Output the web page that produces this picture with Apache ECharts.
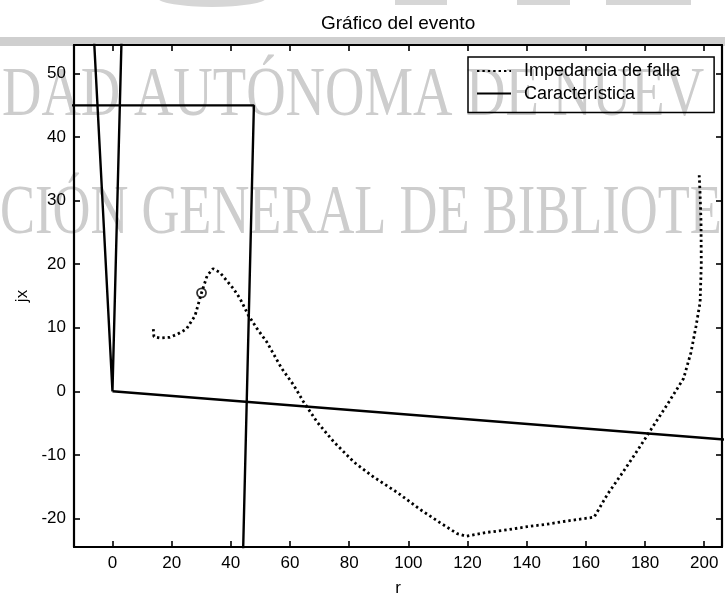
<!DOCTYPE html>
<html>
<head>
<meta charset="utf-8">
<script src="https://cdn.jsdelivr.net/npm/echarts@6/dist/echarts.min.js"></script>
<style>
  html, body { margin: 0; padding: 0; background: #fff; }
  #chart { width: 725px; height: 602px; }
</style>
</head>
<body>
<div id="chart"></div>
<script>
// Trayectoria de la impedancia de falla: resistencia r y reactancia jx (ohm)
const fallaR = [13.8, 14.0, 16.0, 19.4, 22.0, 25.0, 27.9, 30.1, 32.0, 34.0,
                36.3, 40.8, 43.1, 45.9, 48.8, 52.1, 57.2, 61.2, 64.5, 69.1,
                74.7, 81.5, 88.3, 96.2, 104.0, 110.8, 116.5, 119.5, 126.6, 133.4,
                140.2, 147.0, 153.7, 162.8, 167.3, 171.8, 176.3, 181.9, 187.6, 193.0,
                195.5, 197.2, 198.6, 199.0, 198.9, 198.6, 198.3];
const fallaX = [9.8, 8.6, 8.4, 8.5, 9.0, 9.8, 11.9, 15.5, 18.2, 19.3,
                18.7, 16.2, 14.6, 12.0, 9.9, 7.8, 3.6, 1.0, -1.6, -4.8,
                -7.9, -11.1, -13.5, -15.9, -18.6, -20.7, -22.4, -22.8, -22.2, -21.8,
                -21.3, -20.9, -20.4, -19.8, -16.2, -13.2, -10.1, -6.1, -2.0, 2.0,
                6.1, 10.2, 14.0, 20.0, 26.7, 31.0, 34.0];

// Punto marcado sobre la trayectoria
const puntoFalla = [30.1, 15.5];

// Característica del relevador (tramos)
const caracLimitesOrigen = [[-6.3, 56], [0, 0], [3.1, 56]];
const caracReactancia = [[-15, 45], [47.8, 45], [43.9, -30]];
const caracDireccional = [[0, 0], [210, -7.7]];

// Límites de los ejes
const rLimites = [-13, 206];
const xLimites = [-24.5, 54.5];

const fuente = "'Liberation Sans', Arial, Helvetica, sans-serif";
const serif = "'Liberation Serif', 'Times New Roman', serif";
const negro = '#000';
const grisMarca = '#cdcdcd';

function ejeX(pos, etiquetas) {
  return {
    type: 'value', position: pos,
    min: rLimites[0], max: rLimites[1], splitNumber: 11,
    splitLine: { show: false },
    axisLine: { onZero: false, lineStyle: { color: negro, width: 2.2 } },
    axisTick: { inside: true, length: 6, lineStyle: { color: negro, width: 1.6 } },
    axisLabel: { show: etiquetas, showMinLabel: false, showMaxLabel: false,
                 color: negro, fontSize: 17, fontFamily: fuente, margin: 8 }
  };
}
function ejeY(pos, etiquetas) {
  return {
    type: 'value', position: pos,
    min: xLimites[0], max: xLimites[1], splitNumber: 8,
    splitLine: { show: false },
    axisLine: { onZero: false, lineStyle: { color: negro, width: 2.2 } },
    axisTick: { inside: true, length: 6, lineStyle: { color: negro, width: 1.6 } },
    axisLabel: { show: etiquetas, showMinLabel: false, showMaxLabel: false,
                 color: negro, fontSize: 17, fontFamily: fuente, margin: 8 }
  };
}

const xBottom = Object.assign(ejeX('bottom', true), {
  name: 'r', nameLocation: 'middle', nameGap: 33,
  nameTextStyle: { color: negro, fontSize: 17, fontFamily: fuente }
});
const yLeft = Object.assign(ejeY('left', true), {
  name: 'jx', nameLocation: 'middle', nameGap: 40,
  nameTextStyle: { color: negro, fontSize: 17, fontFamily: fuente }
});

const lineaCarac = {
  type: 'line', name: 'Característica', symbol: 'none',
  lineStyle: { color: negro, width: 2.4 }, itemStyle: { color: negro },
  silent: true, z: 3
};

const chart = echarts.init(document.getElementById('chart'), null, { renderer: 'canvas' });
chart.setOption({
  backgroundColor: '#fff',
  animation: false,
  title: {
    text: 'Gráfico del evento', left: 316, top: 9,
    textStyle: { color: negro, fontSize: 19, fontWeight: 'normal', fontFamily: fuente }
  },
  legend: {
    data: ['Impedancia de falla', 'Característica'],
    orient: 'vertical', left: 468, top: 57,
    itemWidth: 34, itemHeight: 14, itemGap: 4.6,
    padding: [5, 34, 10, 8],
    borderColor: negro, borderWidth: 1.5,
    itemStyle: { opacity: 0 },
    textStyle: { color: negro, fontSize: 18, fontFamily: fuente, padding: [0, 0, 0, 8] }
  },
  grid: { left: 74, right: 3, top: 45, bottom: 46 },
  xAxis: [xBottom, ejeX('top', false)],
  yAxis: [yLeft, ejeY('right', false)],
  graphic: [
    { type: 'rect', silent: true, z: -10, shape: { x: 0, y: 37, width: 725, height: 9 }, style: { fill: '#cfcfcf' } },
    { type: 'circle', silent: true, z: -10, x: 212, y: -2, scaleX: 6, shape: { cx: 0, cy: 0, r: 9 }, style: { fill: '#d6d6d6' } },
    { type: 'rect', silent: true, z: -10, shape: { x: 395, y: 0, width: 52, height: 5 }, style: { fill: '#d6d6d6' } },
    { type: 'rect', silent: true, z: -10, shape: { x: 517, y: 0, width: 53, height: 5 }, style: { fill: '#d6d6d6' } },
    { type: 'rect', silent: true, z: -10, shape: { x: 606, y: 0, width: 85, height: 5 }, style: { fill: '#d6d6d6' } },
    { type: 'text', silent: true, z: -10, x: 2, y: 97, scaleX: 0.78,
      style: { text: 'DAD AUTÓNOMA DE NUEV', fontSize: 70, fontFamily: serif,
               fill: grisMarca, verticalAlign: 'middle', align: 'left' } },
    { type: 'text', silent: true, z: -10, x: 0, y: 215, scaleX: 0.75,
      style: { text: 'CIÓN GENERAL DE BIBLIOTE', fontSize: 70, fontFamily: serif,
               fill: grisMarca, verticalAlign: 'middle', align: 'left' } }
  ],
  series: [
    {
      type: 'line', name: 'Impedancia de falla', symbol: 'none', z: 4,
      data: fallaR.map((r, i) => [r, fallaX[i]]),
      lineStyle: { color: negro, width: 2.8, type: [2.4, 3], cap: 'butt' },
      itemStyle: { color: negro }
    },
    {
      type: 'scatter', name: 'punto', data: [puntoFalla], z: 5,
      symbol: 'circle', symbolSize: 9,
      itemStyle: { color: 'rgba(0,0,0,0)', borderColor: negro, borderWidth: 1.8 }
    },
    Object.assign({}, lineaCarac, { data: caracLimitesOrigen }),
    Object.assign({}, lineaCarac, { data: caracReactancia }),
    Object.assign({}, lineaCarac, { data: caracDireccional })
  ]
});
</script>
</body>
</html>
